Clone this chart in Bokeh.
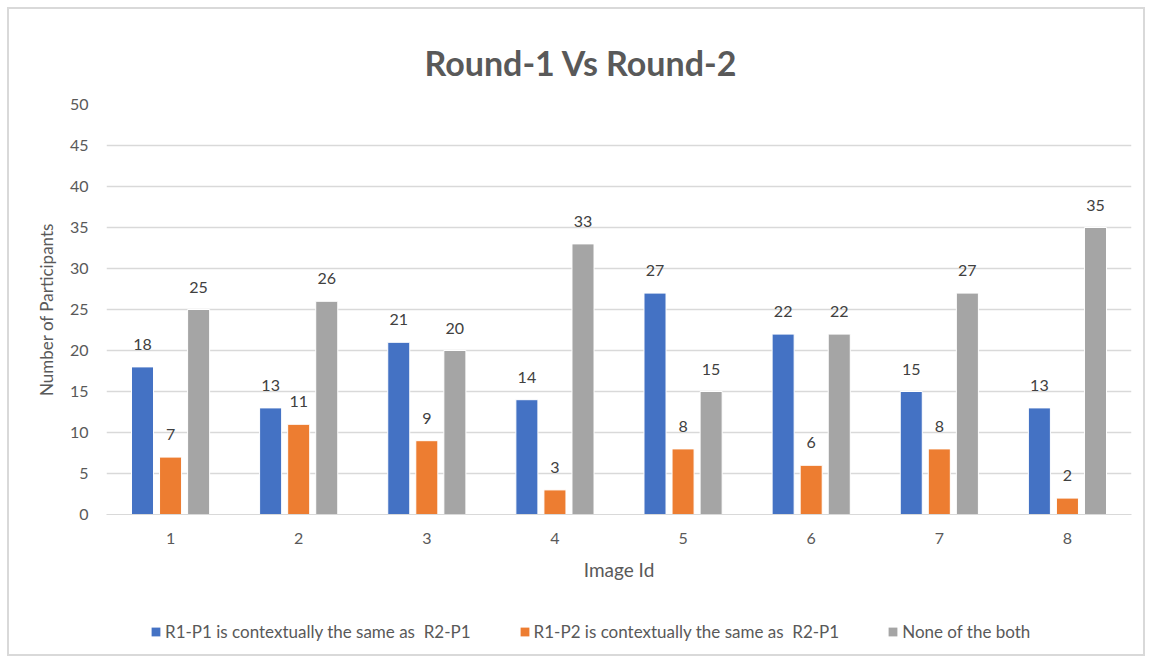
from bokeh.plotting import figure
from bokeh.layouts import column
from bokeh.models import FixedTicker, Legend, LegendItem, ColumnDataSource
from bokeh.embed import file_html
from bokeh.resources import INLINE
from bokeh.core.properties import value

image_ids = ["1", "2", "3", "4", "5", "6", "7", "8"]
r1p1 = [18, 13, 21, 14, 27, 22, 15, 13]
r1p2 = [7, 11, 9, 3, 8, 6, 8, 2]
none_both = [25, 26, 20, 33, 15, 22, 27, 35]
series_names = ["R1-P1 is contextually the same as  R2-P1",
                "R1-P2 is contextually the same as  R2-P1",
                "None of the both"]
y_ticks = [0, 5, 10, 15, 20, 25, 30, 35, 40, 45, 50]

FONT = "Lato"
TXT = "#595959"
colors = ["#4472C4", "#ED7D31", "#A5A5A5"]

p = figure(width=1134, height=585, x_range=(0.5, 8.5), y_range=(0, 50),
           output_backend="svg", toolbar_location=None,
           min_border_left=97, min_border_right=12, min_border_top=95,
           min_border_bottom=80)

p.title.text = "Round-1 Vs Round-2"
p.title.text_font = FONT
p.title.text_font_size = "34px"
p.title.text_font_style = "bold"
p.title.text_color = TXT
p.title.align = "left"
p.title.offset = 318
p.title.standoff = 43

p.outline_line_color = None
p.background_fill_color = "white"
p.border_fill_color = "white"

xs = list(range(1, len(image_ids) + 1))
offsets = [-0.219, 0.0, 0.219]
series = [r1p1, r1p2, none_both]
bar_w = 0.172

for vals, off, col in zip(series, offsets, colors):
    src = ColumnDataSource(dict(x=[x + off for x in xs], top=vals,
                                lab=[str(v) for v in vals]))
    p.vbar(x="x", top="top", width=bar_w, bottom=0, source=src,
           fill_color=col, line_color="white", line_width=1)
    p.text(x="x", y="top", text="lab", source=src, text_align="center",
           text_baseline="bottom", y_offset=-17, text_font=value(FONT),
           text_font_size="16px", text_color="#404040")

# axes
p.xaxis.ticker = FixedTicker(ticks=xs)
p.xaxis.major_label_overrides = {x: lab for x, lab in zip(xs, image_ids)}
p.xaxis.axis_label = "Image Id"
p.xaxis.axis_line_color = "#d9d9d9"
p.xaxis.major_tick_line_color = None
p.xaxis.minor_tick_line_color = None
p.xaxis.major_label_standoff = 12
p.xaxis.axis_label_standoff = 11

p.yaxis.ticker = FixedTicker(ticks=y_ticks)
p.yaxis.axis_label = "Number of Participants"
p.yaxis.axis_line_color = None
p.yaxis.major_tick_line_color = None
p.yaxis.minor_tick_line_color = None
p.yaxis.major_label_standoff = 12
p.yaxis.axis_label_standoff = 10

for ax in (p.xaxis[0], p.yaxis[0]):
    ax.major_label_text_font = FONT
    ax.major_label_text_font_size = "16px"
    ax.major_label_text_color = TXT
    ax.axis_label_text_font = FONT
    ax.axis_label_text_font_style = "normal"
    ax.axis_label_text_color = TXT
p.xaxis.axis_label_text_font_size = "19px"
p.yaxis.axis_label_text_font_size = "17px"

p.xgrid.grid_line_color = None
p.ygrid.grid_line_color = "#d9d9d9"
p.ygrid.grid_line_width = 1.5

# legend strip as a separate small figure
lg = figure(width=1134, height=60, x_range=(0, 1), y_range=(0, 1),
            output_backend="svg", toolbar_location=None,
            x_axis_location=None, y_axis_location=None,
            min_border=0, outline_line_color=None)
lg.xgrid.grid_line_color = None
lg.ygrid.grid_line_color = None
items = []
for col, name in zip(colors, series_names):
    # placeholder marks kept outside the strip's range; only the legend swatch shows
    r = lg.vbar(x=[-10], top=[-10], bottom=[-11], width=0.1,
                fill_color=col, line_color=None)
    items.append(LegendItem(label=name, renderers=[r]))
legend = Legend(items=items, orientation="horizontal", location=(44, 12),
                label_text_font=FONT, label_text_font_size="17px",
                label_text_color=TXT, glyph_width=11, glyph_height=11,
                label_standoff=4, spacing=48, padding=0, margin=0,
                border_line_color=None, background_fill_alpha=0)
lg.add_layout(legend)

layout = column(p, lg, spacing=0, margin=(7, 0, 0, 7),
                styles={"border": "2px solid #d9d9d9"})

open("out.html", "w").write(file_html(layout, INLINE))
